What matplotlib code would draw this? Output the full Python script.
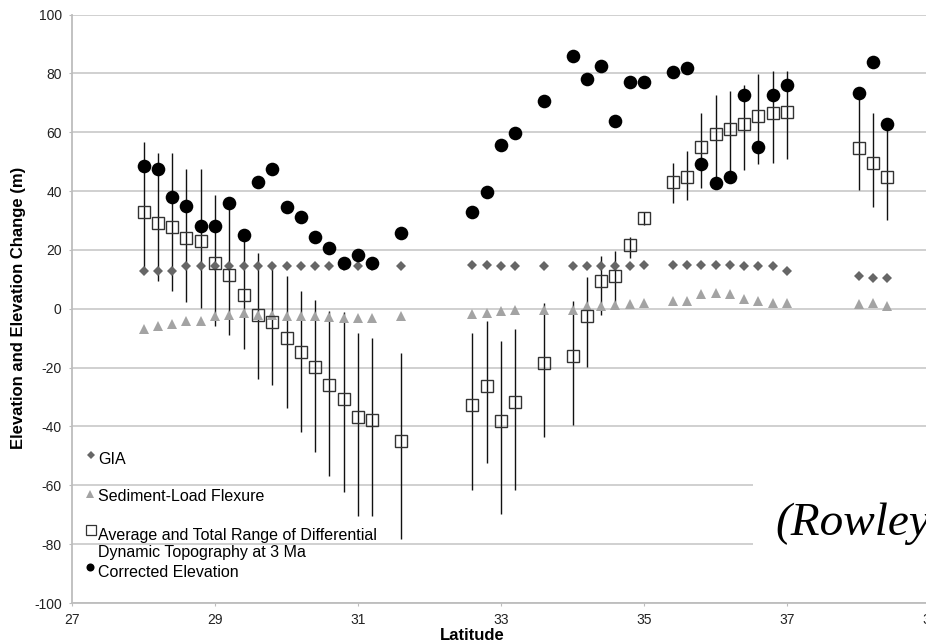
"""
Elevation and elevation change against latitude: GIA, sediment-load flexure,
differential dynamic topography at 3 Ma (with total range) and corrected elevation.
"""

import matplotlib
matplotlib.use("Agg")
import matplotlib.pyplot as plt
from matplotlib.patches import Rectangle

plt.rcParams['font.family'] = ['Liberation Sans', 'DejaVu Sans']
plt.rcParams['axes.unicode_minus'] = False

# Data.
lat = [28.0, 28.2, 28.4, 28.6, 28.8, 29.0, 29.2, 29.4, 29.6, 29.8, 30.0, 30.2,
       30.4, 30.6, 30.8, 31.0, 31.2, 31.6,
       32.6, 32.8, 33.0, 33.2, 33.6, 34.0, 34.2, 34.4, 34.6, 34.8, 35.0,
       35.4, 35.6, 35.8, 36.0, 36.2, 36.4, 36.6, 36.8, 37.0,
       38.0, 38.2, 38.4]

gia = [13.0, 13.0, 13.0, 14.4, 14.4, 14.4, 14.4, 14.4, 14.4, 14.4, 14.4, 14.4,
       14.4, 14.4, 14.4, 14.4, 14.4, 14.4,
       14.9, 14.9, 14.4, 14.4, 14.4, 14.4, 14.4, 14.4, 14.6, 14.4, 14.9,
       14.9, 14.9, 14.9, 14.9, 14.9, 14.4, 14.4, 14.4, 13.0,
       11.2, 10.4, 10.4]

flexure = [-6.9, -6.0, -5.1, -4.0, -4.3, -2.6, -2.0, -1.3, -2.0, -2.0, -2.4, -2.4,
           -2.6, -2.8, -3.2, -3.3, -3.3, -2.6,
           -1.7, -1.5, -0.6, -0.3, -0.3, -0.3, 0.8, 1.0, 1.4, 1.7, 2.1,
           2.7, 2.5, 5.1, 5.3, 4.9, 3.4, 2.8, 2.1, 1.9,
           1.7, 2.1, 1.0]

dyn_topo = [32.8, 29.1, 27.9, 24.0, 22.9, 15.5, 11.5, 4.8, -2.0, -4.6, -10.0, -14.8,
            -19.9, -26.0, -30.7, -36.8, -37.9, -45.0,
            -32.8, -26.1, -38.3, -31.8, -18.4, -16.2, -2.6, 9.5, 11.3, 21.7, 30.8,
            43.2, 44.9, 55.1, 59.4, 61.1, 62.8, 65.6, 66.4, 66.8,
            54.6, 49.5, 44.9]

dyn_hi = [56.8, 52.9, 53.1, 47.5, 47.5, 38.7, 35.5, 26.0, 18.9, 14.5, 11.0, 6.2,
          3.1, -0.6, -1.0, -8.3, -10.0, -15.0,
          -8.3, -4.1, -11.1, -6.9, 1.9, 2.8, 10.8, 17.8, 19.7, 24.5, 33.0,
          49.7, 53.7, 66.4, 72.7, 74.1, 76.1, 79.8, 80.9, 80.9,
          73.0, 66.4, 62.0]

dyn_lo = [14.0, 9.3, 6.2, 2.2, 0.2, -5.8, -8.8, -13.7, -23.9, -25.8, -33.7, -42.0,
          -48.8, -56.7, -62.4, -70.5, -70.3, -78.4,
          -61.5, -52.4, -69.9, -61.5, -43.7, -39.6, -19.8, -2.0, 0.3, 17.2, 28.5,
          36.1, 37.0, 41.0, 42.5, 44.9, 47.0, 49.2, 49.7, 50.8,
          40.2, 34.7, 30.0]

corrected = [48.6, 47.4, 38.1, 35.0, 28.2, 28.0, 35.9, 25.1, 43.2, 47.4, 34.5, 31.1,
             24.3, 20.8, 15.5, 18.3, 15.7, 25.9,
             32.8, 39.6, 55.5, 59.9, 70.7, 86.0, 78.1, 82.5, 63.9, 77.2, 77.2,
             80.6, 81.7, 49.2, 42.7, 44.9, 72.7, 55.1, 72.7, 76.1,
             73.2, 83.8, 62.7]

labels = ["GIA", "Sediment-Load Flexure",
          "Average and Total Range of Differential\nDynamic Topography at 3 Ma",
          "Corrected Elevation"]

xticks = [27, 29, 31, 33, 35, 37, 39]
yticks = list(range(-100, 101, 20))

# Figure.
fig = plt.figure(figsize=(9.26, 6.42), dpi=100)
ax = fig.add_axes([0.0778, 0.0607, 0.9266, 0.9167])

ax.set_xlim(27, 39)
ax.set_ylim(-100, 100)
ax.set_xticks(xticks)
ax.set_yticks(yticks)
ax.set_axisbelow(True)
ax.yaxis.grid(True, color='#d0d0d0', lw=1.4)
ax.xaxis.grid(False)
for s in ['top', 'right']:
    ax.spines[s].set_visible(False)
for s in ['left', 'bottom']:
    ax.spines[s].set_color('#bdbdbd')
    ax.spines[s].set_linewidth(1.3)
ax.tick_params(length=2.5, color='#bdbdbd', labelsize=10, labelcolor='#222222', pad=5)

# white box behind the citation text
ax.add_patch(Rectangle((0.7937, 0.025), 0.3, 0.25, transform=ax.transAxes,
                       fc='white', ec='none', zorder=1, clip_on=False))

# Series
ax.vlines(lat, dyn_lo, dyn_hi, color='#111111', lw=1.0, zorder=2)
ax.plot(lat, gia, 'D', color='#666666', ms=4.6, mew=0, zorder=3)
ax.plot(lat, flexure, '^', color='#a3a3a3', ms=7.5, mew=0, zorder=3)
ax.plot(lat, dyn_topo, 's', mfc='none', mec='#333333', ms=8.5, mew=1.0, zorder=4)
ax.plot(lat, corrected, 'o', color='black', ms=9.8, mew=0, zorder=5)

# Legend drawn inside the plot area
ax.plot([0.0218], [0.2515], 'D', color='#666666', ms=3.6, mew=0, transform=ax.transAxes)
ax.plot([0.021], [0.1847], '^', color='#a3a3a3', ms=5.5, mew=0, transform=ax.transAxes)
ax.plot([0.0218], [0.124], 's', mfc='none', mec='#333333', ms=6.5, mew=0.9,
        transform=ax.transAxes)
ax.plot([0.021], [0.0617], 'o', color='black', ms=5.8, mew=0, transform=ax.transAxes)
ax.text(0.030, 0.2442, labels[0], fontsize=11.5, va='center', transform=ax.transAxes)
ax.text(0.030, 0.1818, labels[1], fontsize=11.5, va='center', transform=ax.transAxes)
ax.text(0.030, 0.1003, labels[2], fontsize=11.5, va='center', linespacing=1.2,
        transform=ax.transAxes)
ax.text(0.030, 0.0515, labels[3], fontsize=11.5, va='center', transform=ax.transAxes)

ax.text(0.8193, 0.1155, "(Rowley", fontsize=34, family='Liberation Serif',
        style='italic', va='baseline', ha='left', transform=ax.transAxes, zorder=6)

ax.set_xlabel("Latitude", fontsize=12, fontweight='bold')
ax.xaxis.set_label_coords(0.466, -0.043)
ax.set_ylabel("Elevation and Elevation Change (m)", fontsize=12, fontweight='bold')
ax.yaxis.set_label_coords(-0.054, 0.501)

fig.savefig("out.png", dpi=100)
